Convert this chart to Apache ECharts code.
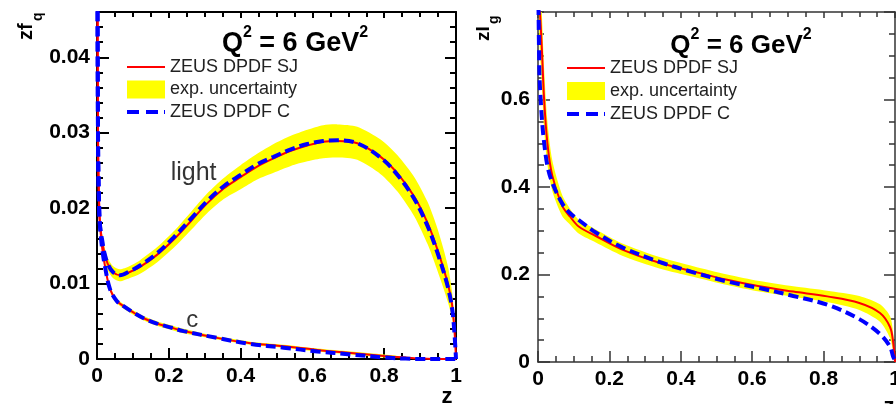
<!DOCTYPE html>
<html><head><meta charset="utf-8">
<script src="https://cdn.jsdelivr.net/npm/echarts@6/dist/echarts.min.js"></script>
<style>html,body{margin:0;padding:0;background:#fff}#c{width:896px;height:404px}</style>
</head><body><div id="c"></div>
<script>
// ---------- data ----------
// left panel: light-quark distribution zf_q
const zLight  = [0.001,0.003,0.0065,0.010,0.015,0.020,0.030,0.045,0.064,0.090,0.120,0.167,0.213,0.260,0.306,0.353,0.400,0.446,0.492,0.540,0.586,0.630,0.670,0.725,0.790,0.837,0.884,0.921,0.949,0.977,0.991,1.000];
const lightSJ = [0.060,0.0283,0.0195,0.0172,0.0155,0.0142,0.0126,0.0115,0.0111,0.0115,0.0122,0.0138,0.0158,0.0182,0.0206,0.0226,0.0241,0.0255,0.0266,0.0276,0.0283,0.0288,0.0289,0.0286,0.0268,0.0246,0.0215,0.0180,0.0144,0.0100,0.0065,0.0];
const lightC  = [0.060,0.0283,0.0192,0.0170,0.0156,0.0142,0.0126,0.0115,0.0111,0.0116,0.0124,0.0140,0.0161,0.0185,0.0209,0.0229,0.0244,0.0258,0.0268,0.0278,0.0285,0.0289,0.0290,0.0286,0.0267,0.0244,0.0212,0.0176,0.0140,0.0096,0.0060,0.0];
const lightUp = [0.062,0.0303,0.0207,0.0182,0.0164,0.0150,0.0134,0.0123,0.0119,0.0123,0.0131,0.0148,0.0169,0.0194,0.0219,0.0240,0.0257,0.0272,0.0285,0.0296,0.0304,0.0310,0.0311,0.0308,0.0291,0.0270,0.0241,0.0208,0.0172,0.0124,0.0081,0.0];
const lightLo = [0.058,0.0263,0.0183,0.0162,0.0146,0.0134,0.0118,0.0107,0.0103,0.0107,0.0113,0.0128,0.0147,0.0170,0.0193,0.0212,0.0225,0.0238,0.0247,0.0256,0.0262,0.0266,0.0267,0.0264,0.0245,0.0222,0.0189,0.0152,0.0116,0.0076,0.0049,0.0];
// left panel: charm distribution
const zCharm  = [0.001,0.003,0.0065,0.010,0.015,0.022,0.036,0.055,0.074,0.100,0.130,0.167,0.204,0.241,0.334,0.427,0.520,0.614,0.707,0.800,0.860,0.900,0.940,1.000];
const charmSJ = [0.060,0.0283,0.0195,0.0168,0.0145,0.0124,0.0093,0.0077,0.0070,0.0062,0.0054,0.0047,0.0042,0.0037,0.0028,0.0021,0.0017,0.0012,0.0008,0.0004,0.0002,0.00005,0.0,0.0];
const charmC  = [0.060,0.0283,0.0192,0.0166,0.0144,0.0123,0.0093,0.0077,0.0070,0.0062,0.0054,0.0047,0.0042,0.0037,0.0028,0.0020,0.0015,0.0010,0.0006,0.0002,0.00005,0.0,0.0,0.0];
const charmUp = [0.061,0.0288,0.0199,0.0171,0.0148,0.0127,0.0096,0.0080,0.0073,0.0065,0.0057,0.0050,0.0045,0.0040,0.0030,0.0023,0.0019,0.0014,0.0010,0.0006,0.0003,0.0001,0.0,0.0];
const charmLo = [0.059,0.0278,0.0191,0.0165,0.0142,0.0121,0.0090,0.0074,0.0067,0.0059,0.0051,0.0044,0.0039,0.0034,0.0026,0.0019,0.0015,0.0010,0.0006,0.0002,0.0001,0.0,0.0,0.0];
// right panel: gluon distribution
const zGluon  = [0.001,0.004,0.0075,0.012,0.017,0.026,0.040,0.068,0.090,0.115,0.162,0.236,0.340,0.435,0.530,0.620,0.715,0.810,0.900,0.958,0.986,0.995,1.000];
const gluonSJ = [1.00,0.83,0.771,0.694,0.602,0.503,0.426,0.357,0.332,0.309,0.288,0.257,0.227,0.207,0.188,0.173,0.161,0.150,0.135,0.112,0.080,0.044,0.0];
const gluonC  = [0.85,0.66,0.60,0.545,0.503,0.450,0.410,0.362,0.340,0.324,0.296,0.262,0.229,0.205,0.184,0.169,0.151,0.131,0.098,0.064,0.035,0.012,0.005];
const gluonUp = [1.10,0.93,0.861,0.774,0.672,0.553,0.461,0.381,0.350,0.325,0.303,0.271,0.240,0.219,0.200,0.185,0.173,0.163,0.151,0.132,0.105,0.064,0.0];
const gluonLo = [0.90,0.73,0.681,0.614,0.532,0.453,0.391,0.333,0.314,0.293,0.273,0.243,0.214,0.195,0.176,0.161,0.149,0.137,0.119,0.092,0.055,0.024,0.0];
// annotations in the left panel
const annotText = ['light','c'];
const annotZ    = [0.269, 0.265];
const annotV    = [0.0246, 0.0051];
// legend entries
const legendNames = ['ZEUS DPDF SJ','exp. uncertainty','ZEUS DPDF C'];

// ---------- helpers ----------
const FONT = 'Liberation Sans, Arial, Helvetica, sans-serif';
const RED = '#ff0000', BLUE = '#0000ff', YEL = '#ffff00';
const pairs = (xs, ys) => xs.map((x,i)=>[x, ys[i]]);

const xAxes = [], yAxes = [];
function addAxes(g, ymax, yMajor, yMinor, color, lw, yMargin){
  const line = {show:true, onZero:false, lineStyle:{color:color, width:lw}};
  const noLine = {show:false, onZero:false};
  const lbl = {show:true, fontSize:21, fontWeight:'bold', color:'#000', fontFamily:FONT};
  const tk = (len)=>({show:true, inside:true, length:len, lineStyle:{color:color, width:lw}});
  const base = {gridIndex:g, type:'value', splitLine:{show:false}, minorTick:{show:false}, axisPointer:{show:false}};
  xAxes.push(Object.assign({}, base, {min:0,max:1,interval:0.2,position:'bottom',axisLine:line,axisTick:tk(11),
     axisLabel:Object.assign({}, lbl, {margin:7, showMaxLabel:true, showMinLabel:true})}));
  xAxes.push(Object.assign({}, base, {min:0,max:1,interval:0.05,position:'bottom',axisLine:noLine,axisTick:tk(6),axisLabel:{show:false}}));
  xAxes.push(Object.assign({}, base, {min:0,max:1,interval:0.2,position:'top',axisLine:line,axisTick:tk(6),axisLabel:{show:false}}));
  xAxes.push(Object.assign({}, base, {min:0,max:1,interval:0.05,position:'top',axisLine:noLine,axisTick:tk(5),axisLabel:{show:false}}));
  yAxes.push(Object.assign({}, base, {min:0,max:ymax,interval:yMajor,position:'left',axisLine:line,axisTick:tk(12),
     axisLabel:Object.assign({}, lbl, {margin:yMargin, showMaxLabel:false, showMinLabel:true})}));
  yAxes.push(Object.assign({}, base, {min:0,max:ymax,interval:yMinor,position:'left',axisLine:noLine,axisTick:tk(6),axisLabel:{show:false}}));
  yAxes.push(Object.assign({}, base, {min:0,max:ymax,interval:yMajor,position:'right',axisLine:line,axisTick:tk(11),axisLabel:{show:false}}));
  yAxes.push(Object.assign({}, base, {min:0,max:ymax,interval:yMinor,position:'right',axisLine:noLine,axisTick:tk(6),axisLabel:{show:false}}));
}
addAxes(0, 0.046, 0.01, 0.002, '#000', 2, 7);
addAxes(1, 0.8, 0.2, 0.05, '#333', 1.5, 8);

const common = {type:'line', symbol:'none', showSymbol:false, smooth:0.35, clip:true, animation:false, silent:true, z:3};
function band(g, zs, up, lo){
  const ax = g*4;
  return {type:'custom', name:legendNames[1], xAxisIndex:ax, yAxisIndex:ax, clip:true, silent:true, animation:false, z:2,
    itemStyle:{color:YEL},
    data: zs.map((z,i)=>[z, up[i], lo[i]]),
    renderItem: function(params, api){
      if (params.dataIndex !== 0) return null;
      const pts = [];
      for (let i=0;i<zs.length;i++) pts.push(api.coord([zs[i], up[i]]));
      for (let i=zs.length-1;i>=0;i--) pts.push(api.coord([zs[i], lo[i]]));
      const cs = params.coordSys;
      return {type:'polygon', shape:{points:pts, smooth:0.25}, style:{fill:YEL, stroke:null},
        clipPath:{type:'rect', shape:{x:cs.x, y:cs.y, width:cs.width, height:cs.height}}};
    },
    encode:{x:0, y:1}
  };
}
function curve(g, name, zs, vs, color, width, dash){
  const ax = g*4;
  return Object.assign({}, common, {xAxisIndex:ax, yAxisIndex:ax, name:name, data:pairs(zs, vs),
     itemStyle:{color:color}, lineStyle:{color:color, width:width, type:dash||'solid'}});
}
const series = [
  band(0, zLight, lightUp, lightLo),
  band(0, zCharm, charmUp, charmLo),
  curve(0, legendNames[0], zLight, lightSJ, RED, 2),
  curve(0, legendNames[0], zCharm, charmSJ, RED, 2),
  curve(0, legendNames[2], zLight, lightC, BLUE, 4, [10,5]),
  curve(0, legendNames[2], zCharm, charmC, BLUE, 4, [10,5]),
  band(1, zGluon, gluonUp, gluonLo),
  curve(1, legendNames[0], zGluon, gluonSJ, RED, 2),
  curve(1, legendNames[2], zGluon, gluonC, BLUE, 4, [10,5]),
  {type:'scatter', xAxisIndex:0, yAxisIndex:0, symbolSize:0, silent:true, animation:false, z:5,
    data: annotZ.map((z,i)=>({value:[z, annotV[i]], name:annotText[i],
      label:{show:true, position:'inside', formatter:annotText[i], fontSize: i===0?25:24, color:'#000', fontFamily:FONT}}))}
];

// legend icons: bounding points (0,0) and (38,18) keep the shape's scale
const ICON_SOLID = 'path://M0,0L0,0M38,18L38,18M0,8h38v2h-38z';
const ICON_DASH  = 'path://M0,0L0,0M38,18L38,18M0,7h12v4h-12zM19,7h12v4h-12zM37,7h1v4h-1z';
function legendAt(left, top, gap){
  return {left:left, top:top, orient:'vertical', itemWidth:38, itemHeight:18, itemGap:gap, padding:0, selectedMode:false,
    data:[{name:legendNames[0], icon:ICON_SOLID},{name:legendNames[1], icon:'rect'},{name:legendNames[2], icon:ICON_DASH}],
    textStyle:{fontSize:18, color:'#222', fontFamily:FONT}};
}
const titleRich = (fs)=>({
  b:{fontSize:fs, fontWeight:'bold', fontFamily:FONT, fill:'#000', lineHeight:fs+6, verticalAlign:'bottom'},
  s:{fontSize:16, fontWeight:'bold', fontFamily:FONT, fill:'#000', lineHeight:fs+6, verticalAlign:'top'}
});
const txt = (o)=>Object.assign({fontWeight:'bold', fontFamily:FONT, fill:'#000', align:'left', verticalAlign:'middle'}, o);
const graphic = [
  {type:'text', z:100, x:295, y:41, style:{text:'{b|Q}{s|2}{b| = 6 GeV}{s|2}', rich:titleRich(27), align:'center', verticalAlign:'middle'}},
  {type:'text', z:100, x:741, y:43, style:{text:'{b|Q}{s|2}{b| = 6 GeV}{s|2}', rich:titleRich(26), align:'center', verticalAlign:'middle'}},
  {type:'text', z:100, x:26, y:40, rotation:Math.PI/2, style:txt({text:'zf', fontSize:20})},
  {type:'text', z:100, x:38, y:21, rotation:Math.PI/2, style:txt({text:'q', fontSize:14})},
  {type:'text', z:100, x:484, y:41, rotation:Math.PI/2, style:txt({text:'zI', fontSize:19})},
  {type:'text', z:100, x:494, y:24, rotation:Math.PI/2, style:txt({text:'g', fontSize:14})},
  {type:'text', z:100, x:447, y:397, style:txt({text:'z', fontSize:22, align:'center'})},
  {type:'text', z:100, x:889, y:407, style:txt({text:'z', fontSize:22, align:'center'})}
];

const chart = echarts.init(document.getElementById('c'), null, {renderer:'canvas'});
chart.setOption({
  backgroundColor:'#fff',
  animation:false,
  grid:[
    {left:97, top:12, width:359, height:347, containLabel:false, outerBoundsMode:'none', show:false},
    {left:538, top:12, width:357, height:350, containLabel:false, outerBoundsMode:'none', show:false}
  ],
  xAxis:xAxes, yAxis:yAxes,
  legend:[legendAt(127, 58, 4.5), legendAt(567, 59, 5)],
  graphic:graphic,
  series:series
});
</script>
</body></html>
